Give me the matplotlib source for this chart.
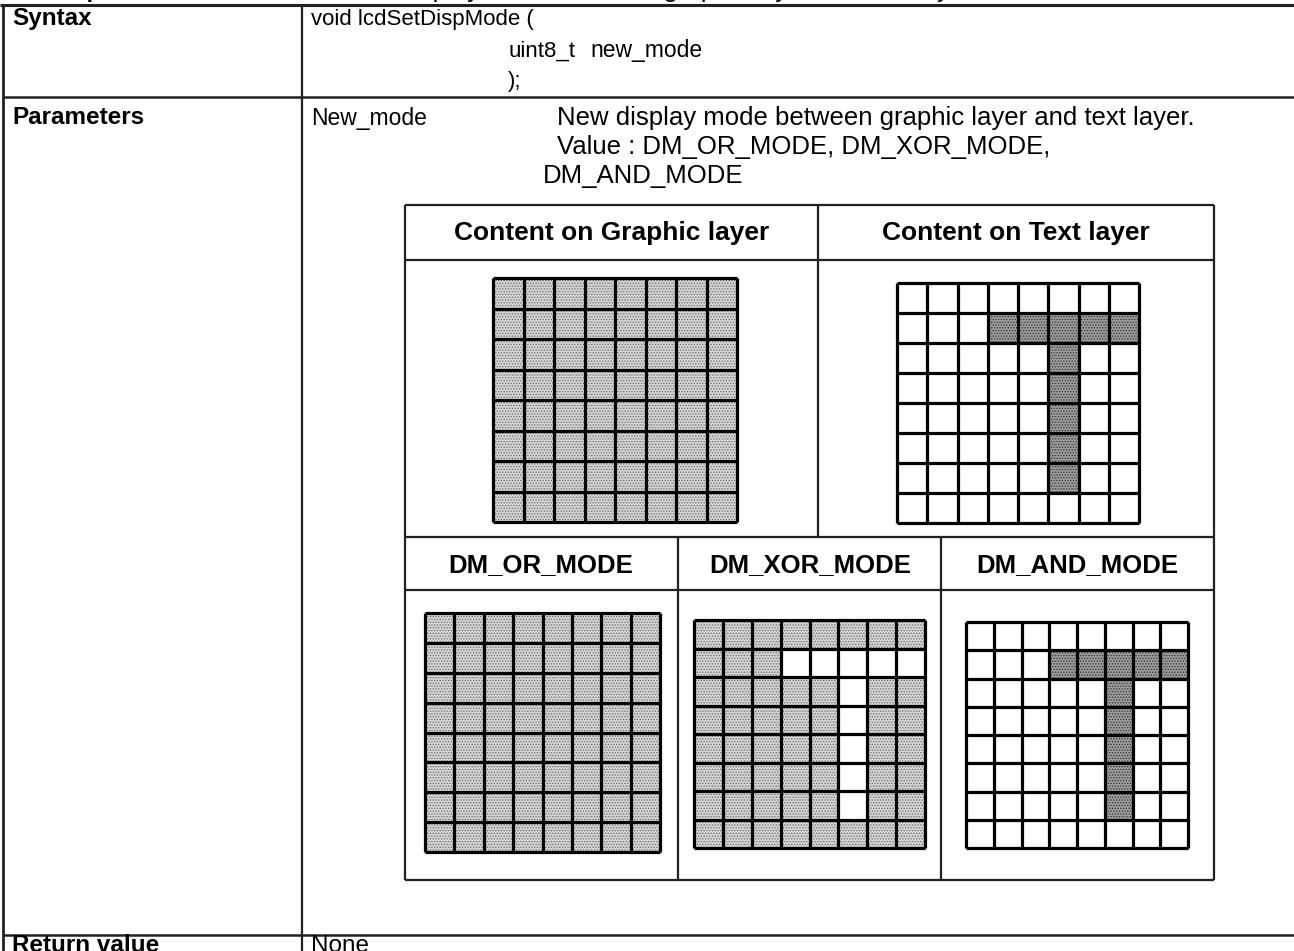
import matplotlib.pyplot as plt
from matplotlib.patches import Rectangle

plt.rcParams["font.family"] = ["Liberation Sans", "DejaVu Sans"]
plt.rcParams["hatch.linewidth"] = 0.6

# cell patterns, 1 = shaded, 2 = dark shaded
graphic_layer = ["11111111",
                 "11111111",
                 "11111111",
                 "11111111",
                 "11111111",
                 "11111111",
                 "11111111",
                 "11111111"]
text_layer = ["00000000",
              "00022222",
              "00000200",
              "00000200",
              "00000200",
              "00000200",
              "00000200",
              "00000000"]
or_mode = graphic_layer
xor_mode = ["11111111",
            "11100000",
            "11111011",
            "11111011",
            "11111011",
            "11111011",
            "11111011",
            "11111111"]
and_mode = text_layer

header_top = ["Content on Graphic layer", "Content on Text layer"]
header_bottom = ["DM_OR_MODE", "DM_XOR_MODE", "DM_AND_MODE"]

fig = plt.figure(figsize=(12.94, 9.51), dpi=100)
ax = fig.add_axes([0, 0, 1, 1])
ax.set_xlim(0, 1294)
ax.set_ylim(951, 0)
ax.axis("off")

FS = 16      # syntax text
FD = 18.5    # parameter description
FB = 17.5    # bold row labels


def line(x0, y0, x1, y1, lw=1.6, color="#222222"):
    ax.plot([x0, x1], [y0, y1], color=color, lw=lw, solid_capstyle="butt")


def grid(x0, y0, x1, y1, cells):
    n = len(cells)
    cw = (x1 - x0) / n
    ch = (y1 - y0) / n
    for r, row in enumerate(cells):
        for c, v in enumerate(row):
            if v == "0":
                continue
            fc, hc = ("#d4d4d4", "#6a6a6a") if v == "1" else ("#9c9c9c", "#2e2e2e")
            ax.add_patch(Rectangle((x0 + c * cw, y0 + r * ch), cw, ch, facecolor=fc,
                                   edgecolor=hc, lw=0, hatch="......"))
    for i in range(n + 1):
        line(x0 + i * cw, y0, x0 + i * cw, y1, lw=2.3, color="black")
        line(x0, y0 + i * ch, x1, y0 + i * ch, lw=2.3, color="black")


# outer table
line(0, 5, 1294, 5, lw=2.2)
line(3, 5, 3, 951, lw=2.0)
line(302, 5, 302, 951, lw=1.6)
line(3, 97, 1294, 97, lw=1.8)
line(3, 935, 1294, 935, lw=1.8)

# row text (first row is cut off at the top edge)
ax.text(12, -3.5, "Description", fontsize=FB, fontweight="bold", va="baseline")
ax.text(311, -3.5, "Set the display mode between graphic layer and text layer.", fontsize=FD, va="baseline")
ax.text(12, 19, "Syntax", fontsize=FB, fontweight="bold", va="center")
ax.text(311, 19, "void lcdSetDispMode (", fontsize=FS, va="center")
ax.text(508, 51, "uint8_t", fontsize=FS, va="center")
ax.text(590, 51, "new_mode", fontsize=FS + 0.5, va="center")
ax.text(508, 81, ");", fontsize=FS, va="center")
ax.text(12, 118, "Parameters", fontsize=FB, fontweight="bold", va="center")
ax.text(311, 118, "New_mode", fontsize=16.5, va="center")
ax.text(557, 118, "New display mode between graphic layer and text layer.", fontsize=FD, va="center")
ax.text(557, 147, "Value : DM_OR_MODE, DM_XOR_MODE,", fontsize=FD, va="center")
ax.text(543, 176, "DM_AND_MODE", fontsize=FD, va="center")
ax.text(12, 946, "Return value", fontsize=FB, fontweight="bold", va="center")
ax.text(311, 946, "None", fontsize=17.5, va="center")

# inner table
L, R, T, B = 405, 1214, 205, 880
line(L, T, R, T)
line(L, B, R, B)
line(L, T, L, B)
line(R, T, R, B)
line(L, 260, R, 260)
line(L, 537, R, 537)
line(L, 590, R, 590)
line(818, T, 818, 537)
line(678, 537, 678, B)
line(941, 537, 941, B)

for txt, cx in zip(header_top, [612, 1016]):
    ax.text(cx, 233, txt, fontsize=19, fontweight="bold", ha="center", va="center")
for txt, cx in zip(header_bottom, [541, 810, 1077]):
    ax.text(cx, 565, txt, fontsize=18.5, fontweight="bold", ha="center", va="center")

grid(493, 278, 737, 522, graphic_layer)
grid(897, 283, 1139, 523, text_layer)
grid(425, 613, 660, 852, or_mode)
grid(694, 620, 925, 848, xor_mode)
grid(966, 622, 1188, 848, and_mode)

plt.savefig("out.png", dpi=100)
